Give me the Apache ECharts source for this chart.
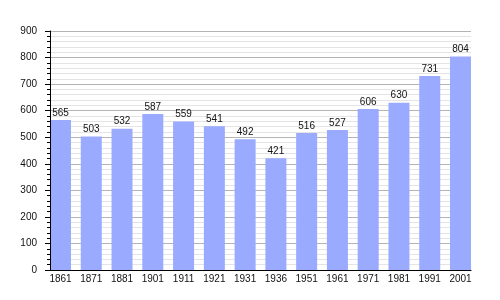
<!DOCTYPE html>
<html>
<head>
<meta charset="utf-8">
<script src="https://cdn.jsdelivr.net/npm/echarts@6/dist/echarts.min.js"></script>
<style>html,body{margin:0;padding:0;background:#fff}#c{width:500px;height:300px}</style>
</head>
<body>
<div id="c"></div>
<script>
const categories = ['1861','1871','1881','1901','1911','1921','1931','1936','1951','1961','1971','1981','1991','2001'];
const population = [565,503,532,587,559,541,492,421,516,527,606,630,731,804];
const yMin = 0, yMax = 900, yStep = 100;

const font = 'Liberation Sans, Arial, sans-serif';
const chart = echarts.init(document.getElementById('c'), null, {renderer: 'canvas'});
const TOP = 31, BOTTOM = 30;
chart.setOption({
  animation: false,
  textStyle: {fontFamily: font},
  grid: [
    {left: 50, right: 29, top: TOP, bottom: BOTTOM},
    {left: 45.115, right: 24.115, top: TOP, bottom: BOTTOM}
  ],
  xAxis: [
    {gridIndex: 0, type: 'category', data: categories, z: 5,
     axisLine: {show: true, lineStyle: {color: '#000', width: 1}},
     axisTick: {show: false}, axisLabel: {show: false}, splitLine: {show: false}},
    {gridIndex: 1, type: 'category', data: categories,
     axisLine: {show: false}, axisTick: {show: false},
     axisLabel: {show: true, color: '#111', fontSize: 10, margin: 4, fontFamily: font}}
  ],
  yAxis: [
    {gridIndex: 0, type: 'value', min: yMin, max: yMax, interval: yStep, z: 0,
     axisLine: {show: false}, axisTick: {show: false},
     axisLabel: {color: '#111', fontSize: 10, margin: 13, fontFamily: font},
     splitLine: {show: true, lineStyle: {color: '#b4b4b4', width: 1}},
     minorTick: {show: false, splitNumber: 5},
     minorSplitLine: {show: true, lineStyle: {color: '#e4e4e4', width: 1}}},
    {gridIndex: 0, type: 'value', min: yMin, max: yMax, interval: yStep, z: 5, position: 'left',
     axisLine: {show: true, onZero: false, lineStyle: {color: '#000', width: 1}},
     axisTick: {show: true, length: 5, inside: false, lineStyle: {color: '#000'}},
     minorTick: {show: true, splitNumber: 5, length: 3, lineStyle: {color: '#000'}},
     axisLabel: {show: false}, splitLine: {show: false}},
    {gridIndex: 1, type: 'value', min: yMin, max: yMax, interval: yStep, show: false,
     splitLine: {show: false}}
  ],
  series: [{
    type: 'bar', xAxisIndex: 1, yAxisIndex: 2, data: population, barWidth: 21, z: 2,
    itemStyle: {color: '#99aaff'},
    label: {show: true, position: 'top', distance: 2, color: '#111', fontSize: 10, fontFamily: font}
  }]
});
</script>
</body>
</html>
